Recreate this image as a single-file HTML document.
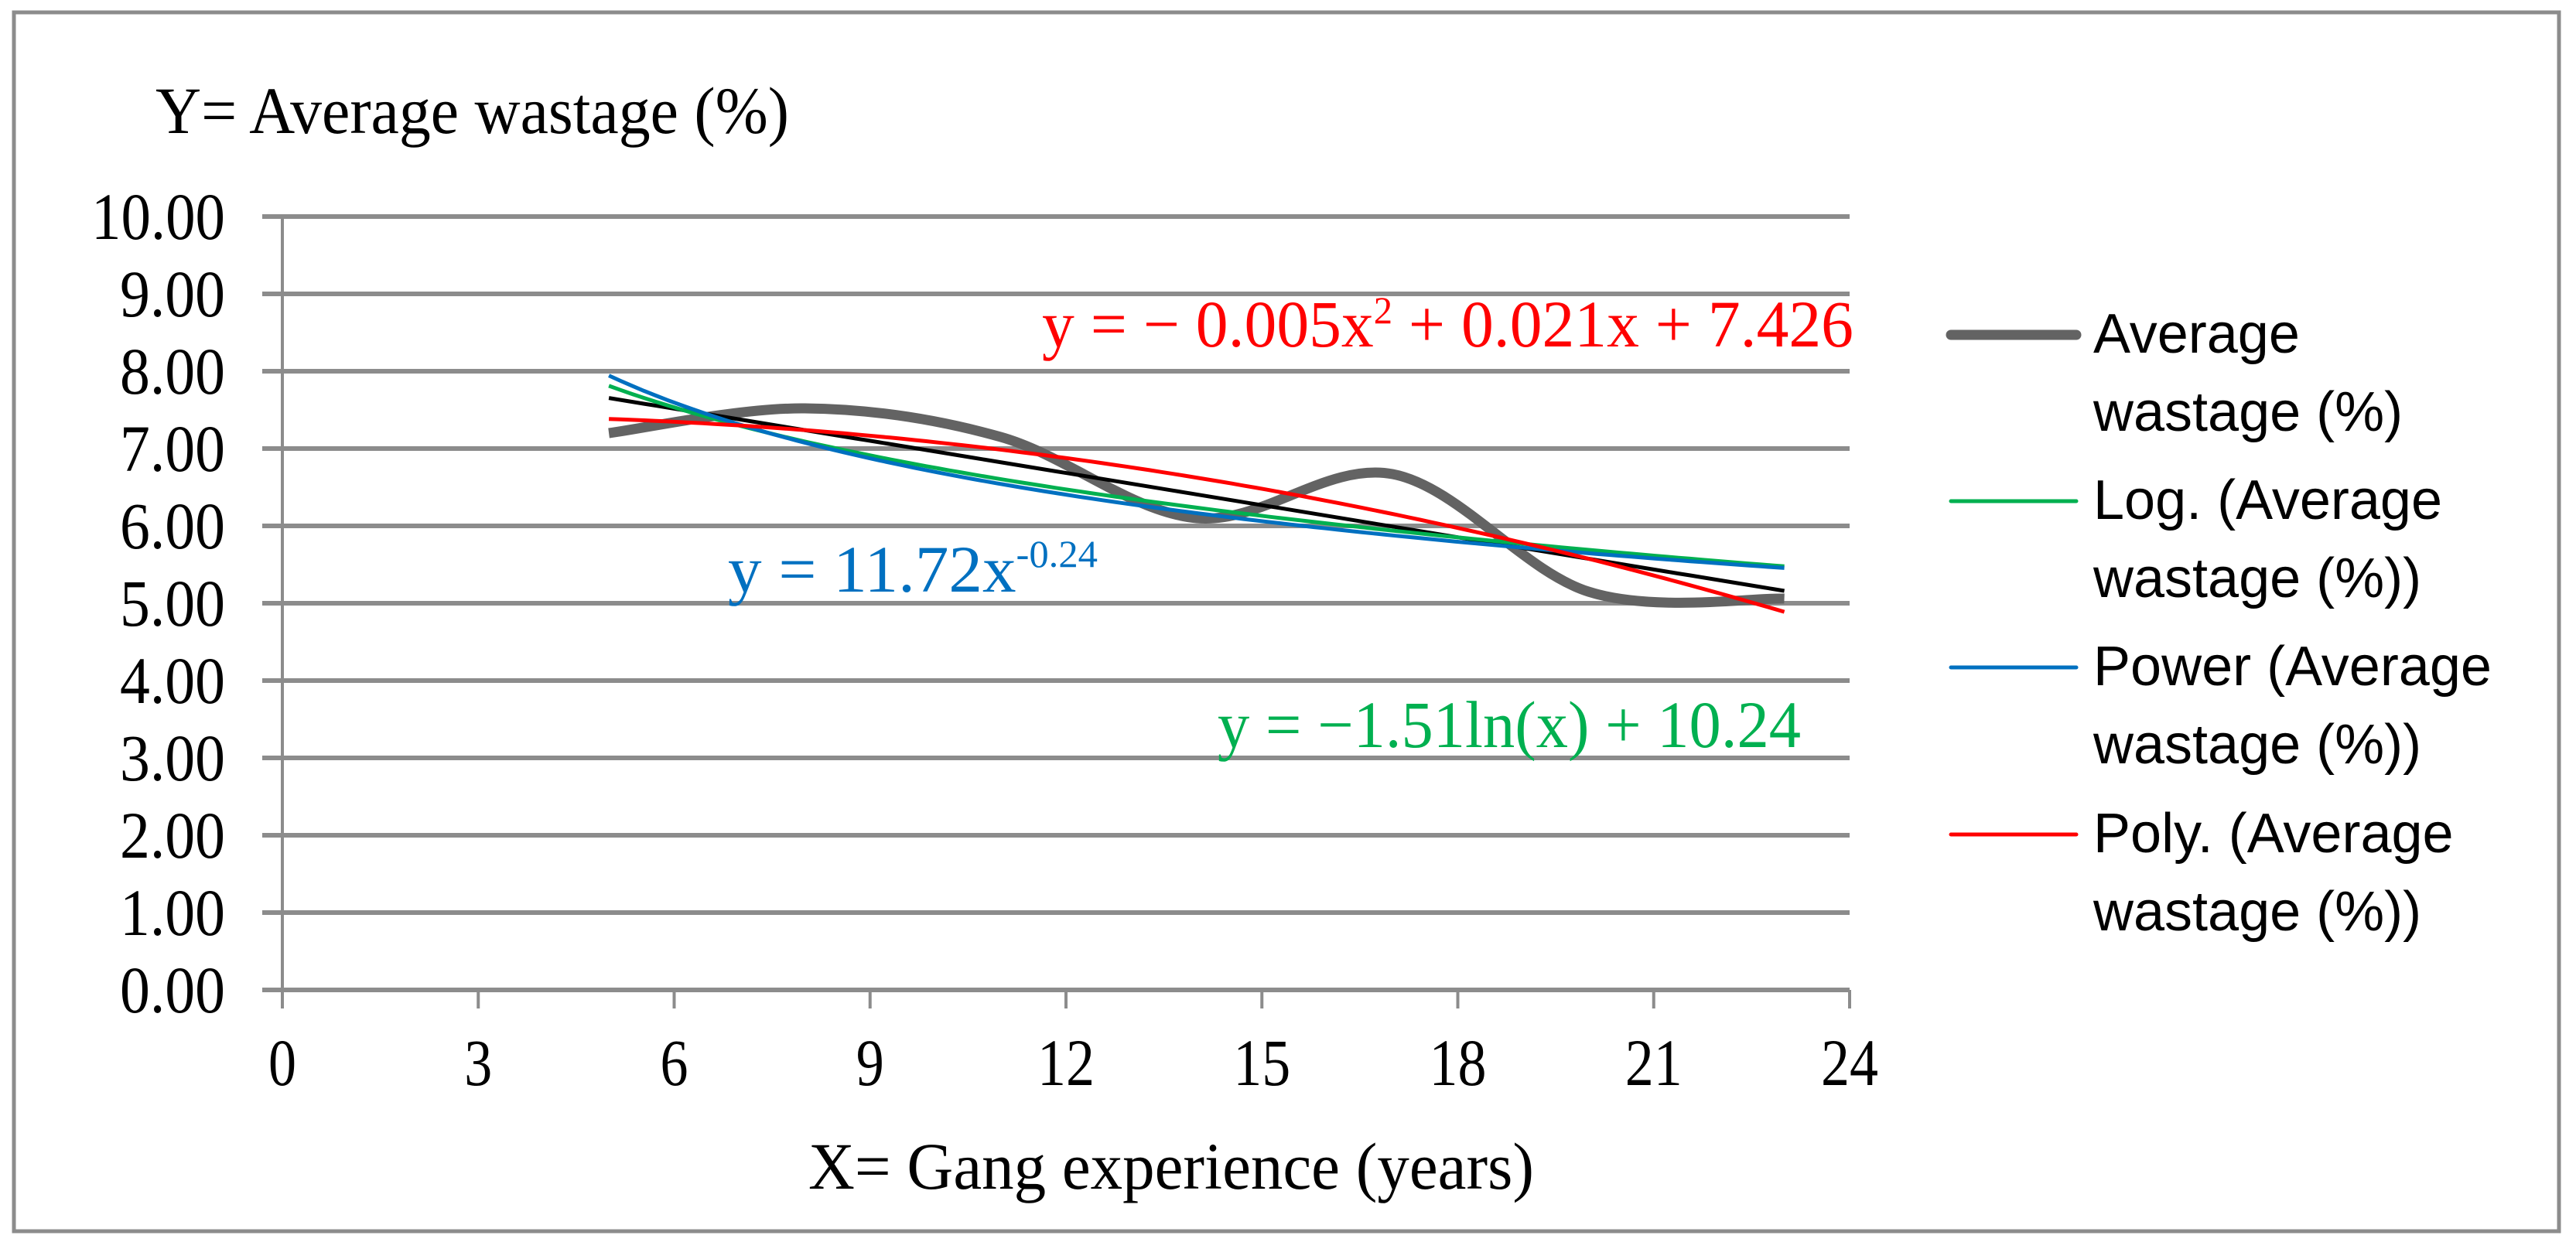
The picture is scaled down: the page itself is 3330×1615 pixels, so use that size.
<!DOCTYPE html>
<html><head><meta charset="utf-8">
<style>
html,body{margin:0;padding:0;background:#fff;}
svg{display:block;}
</style></head>
<body>
<svg id="chart" width="3330" height="1615" viewBox="0 0 3330 1615" xmlns="http://www.w3.org/2000/svg">
  <rect x="18" y="16" width="3290" height="1576" fill="#fff" stroke="#8c8c8c" stroke-width="5"/>
  <g id="grid"></g>
  <g id="axes"></g>
  <g id="series"></g>
  <text x="201" y="172" font-family="Liberation Serif, serif" font-size="86" textLength="819" lengthAdjust="spacingAndGlyphs">Y= Average wastage (%)</text>
  <text x="1514" y="1537" text-anchor="middle" font-family="Liberation Serif, serif" font-size="86" textLength="938" lengthAdjust="spacingAndGlyphs">X= Gang experience (years)</text>
  <text x="1347" y="448" fill="#ff0000" font-family="Liberation Serif, serif" font-size="86" textLength="1049" lengthAdjust="spacingAndGlyphs">y = − 0.005x<tspan dy="-30" font-size="50">2</tspan><tspan dy="30"> + 0.021x + 7.426</tspan></text>
  <text x="941" y="765" fill="#0070c0" font-family="Liberation Serif, serif" font-size="86" textLength="478" lengthAdjust="spacingAndGlyphs">y = 11.72x<tspan dy="-32" font-size="50">-0.24</tspan></text>
  <text x="1574" y="966" fill="#00b050" font-family="Liberation Serif, serif" font-size="86" textLength="754" lengthAdjust="spacingAndGlyphs">y = −1.51ln(x) + 10.24</text>
  <g id="legend" font-family="Liberation Sans, sans-serif" font-size="72">
    <g>
      <line x1="2522" y1="433" x2="2684" y2="433" stroke="#636363" stroke-width="13" stroke-linecap="round"/>
      <text x="2706" y="456">Average</text><text x="2706" y="557">wastage (%)</text>
    </g>
    <g>
      <line x1="2522" y1="648" x2="2684" y2="648" stroke="#00b050" stroke-width="5" stroke-linecap="round"/>
      <text x="2706" y="671">Log. (Average</text><text x="2706" y="772">wastage (%))</text>
    </g>
    <g>
      <line x1="2522" y1="863" x2="2684" y2="863" stroke="#0070c0" stroke-width="5" stroke-linecap="round"/>
      <text x="2706" y="886">Power (Average</text><text x="2706" y="987">wastage (%))</text>
    </g>
    <g>
      <line x1="2522" y1="1079" x2="2684" y2="1079" stroke="#ff0000" stroke-width="5" stroke-linecap="round"/>
      <text x="2706" y="1102">Poly. (Average</text><text x="2706" y="1203">wastage (%))</text>
    </g>
  </g>
</svg>
<script>
const xValues = [5, 8, 11, 14, 17, 20, 23];
const yValues = [7.2, 7.52, 7.15, 6.1, 6.67, 5.15, 5.06];
const yTicks = [0, 1, 2, 3, 4, 5, 6, 7, 8, 9, 10];
const xTicks = [0, 3, 6, 9, 12, 15, 18, 21, 24];

const NS = 'http://www.w3.org/2000/svg';
const X0 = 365, X1 = 2391, Y0 = 1280, Y1 = 280;
function sx(v){ return X0 + (v - 0) / 24 * (X1 - X0); }
function sy(v){ return Y0 - (v - 0) / 10 * (Y0 - Y1); }
function mk(tag, attrs, parent){
  const e = document.createElementNS(NS, tag);
  for (const k in attrs) e.setAttribute(k, attrs[k]);
  parent.appendChild(e);
  return e;
}
const grid = document.getElementById('grid');
const axes = document.getElementById('axes');
const series = document.getElementById('series');

yTicks.forEach(t => {
  const g = mk('line', {x1: X0 - 26, x2: X1, y1: sy(t), y2: sy(t), stroke: '#8c8c8c', 'stroke-width': 6}, grid);
  
  
  const lb = mk('text', {x: 291, y: sy(t) + 29, 'text-anchor': 'end', 'font-family': 'Liberation Serif, serif', 'font-size': 86, textLength: t === 10 ? 173 : 136, lengthAdjust: 'spacingAndGlyphs'}, axes);
  lb.textContent = t.toFixed(2);
  
  
});
const yaxis = mk('line', {x1: X0, x2: X0, y1: Y1, y2: Y0, stroke: '#8c8c8c', 'stroke-width': 4}, axes);


xTicks.forEach(t => {
  const tk = mk('line', {x1: sx(t), x2: sx(t), y1: Y0, y2: Y0 + 24, stroke: '#8c8c8c', 'stroke-width': 4}, axes);
  
  
  const lb = mk('text', {x: sx(t), y: 1403, 'text-anchor': 'middle', 'font-family': 'Liberation Serif, serif', 'font-size': 86, textLength: t < 10 ? 36 : 74, lengthAdjust: 'spacingAndGlyphs'}, axes);
  lb.textContent = String(t);
  
  
});

function smoothPath(xs, ys){
  const P = xs.map((x, i) => [sx(x), sy(ys[i])]);
  let d = 'M' + P[0][0] + ',' + P[0][1];
  for (let i = 0; i < P.length - 1; i++){
    const p0 = P[Math.max(0, i - 1)], p1 = P[i], p2 = P[i + 1], p3 = P[Math.min(P.length - 1, i + 2)];
    const c1 = [p1[0] + (p2[0] - p0[0]) / 6, p1[1] + (p2[1] - p0[1]) / 6];
    const c2 = [p2[0] - (p3[0] - p1[0]) / 6, p2[1] - (p3[1] - p1[1]) / 6];
    d += ' C' + c1 + ' ' + c2 + ' ' + p2;
  }
  return d;
}

const n = xValues.length;
function linFit(xs, ys){
  const mx = xs.reduce((a, b) => a + b) / n, my = ys.reduce((a, b) => a + b) / n;
  let sxy = 0, sxx = 0;
  xs.forEach((x, i) => { sxy += (x - mx) * (ys[i] - my); sxx += (x - mx) * (x - mx); });
  const b = sxy / sxx; return [my - b * mx, b];
}
const lin = linFit(xValues, yValues);
const lg = linFit(xValues.map(Math.log), yValues);
const pw = linFit(xValues.map(Math.log), yValues.map(Math.log));
function quadFit(xs, ys){
  let S = [0,0,0,0,0], T = [0,0,0];
  xs.forEach((x, i) => { for (let k = 0; k < 5; k++) S[k] += Math.pow(x, k); for (let k = 0; k < 3; k++) T[k] += ys[i] * Math.pow(x, k); });
  const M = [[S[0],S[1],S[2],T[0]],[S[1],S[2],S[3],T[1]],[S[2],S[3],S[4],T[2]]];
  for (let i = 0; i < 3; i++){
    for (let j = i + 1; j < 3; j++){ const f = M[j][i] / M[i][i]; for (let k = i; k < 4; k++) M[j][k] -= f * M[i][k]; }
  }
  const c = [0,0,0];
  for (let i = 2; i >= 0; i--){ let s = M[i][3]; for (let k = i + 1; k < 3; k++) s -= M[i][k] * c[k]; c[i] = s / M[i][i]; }
  return c;
}
const qd = quadFit(xValues, yValues);
function fnPath(f){
  const a = xValues[0], b = xValues[n - 1];
  let d = '';
  for (let i = 0; i <= 100; i++){ const x = a + (b - a) * i / 100; d += (i ? 'L' : 'M') + sx(x).toFixed(1) + ',' + sy(f(x)).toFixed(1); }
  return d;
}

const main = mk('path', {d: smoothPath(xValues, yValues), fill: 'none', stroke: '#636363', 'stroke-width': 13, 'stroke-linejoin': 'round'}, series);



const tl = mk('path', {d: fnPath(x => lin[0] + lin[1] * x), fill: 'none', stroke: '#000', 'stroke-width': 5}, series);


const tg = mk('path', {d: fnPath(x => lg[0] + lg[1] * Math.log(x)), fill: 'none', stroke: '#00b050', 'stroke-width': 5}, series);


const tp = mk('path', {d: fnPath(x => Math.exp(pw[0]) * Math.pow(x, pw[1])), fill: 'none', stroke: '#0070c0', 'stroke-width': 5}, series);


const tq = mk('path', {d: fnPath(x => qd[0] + qd[1] * x + qd[2] * x * x), fill: 'none', stroke: '#ff0000', 'stroke-width': 5}, series);


</script>
</body></html>
